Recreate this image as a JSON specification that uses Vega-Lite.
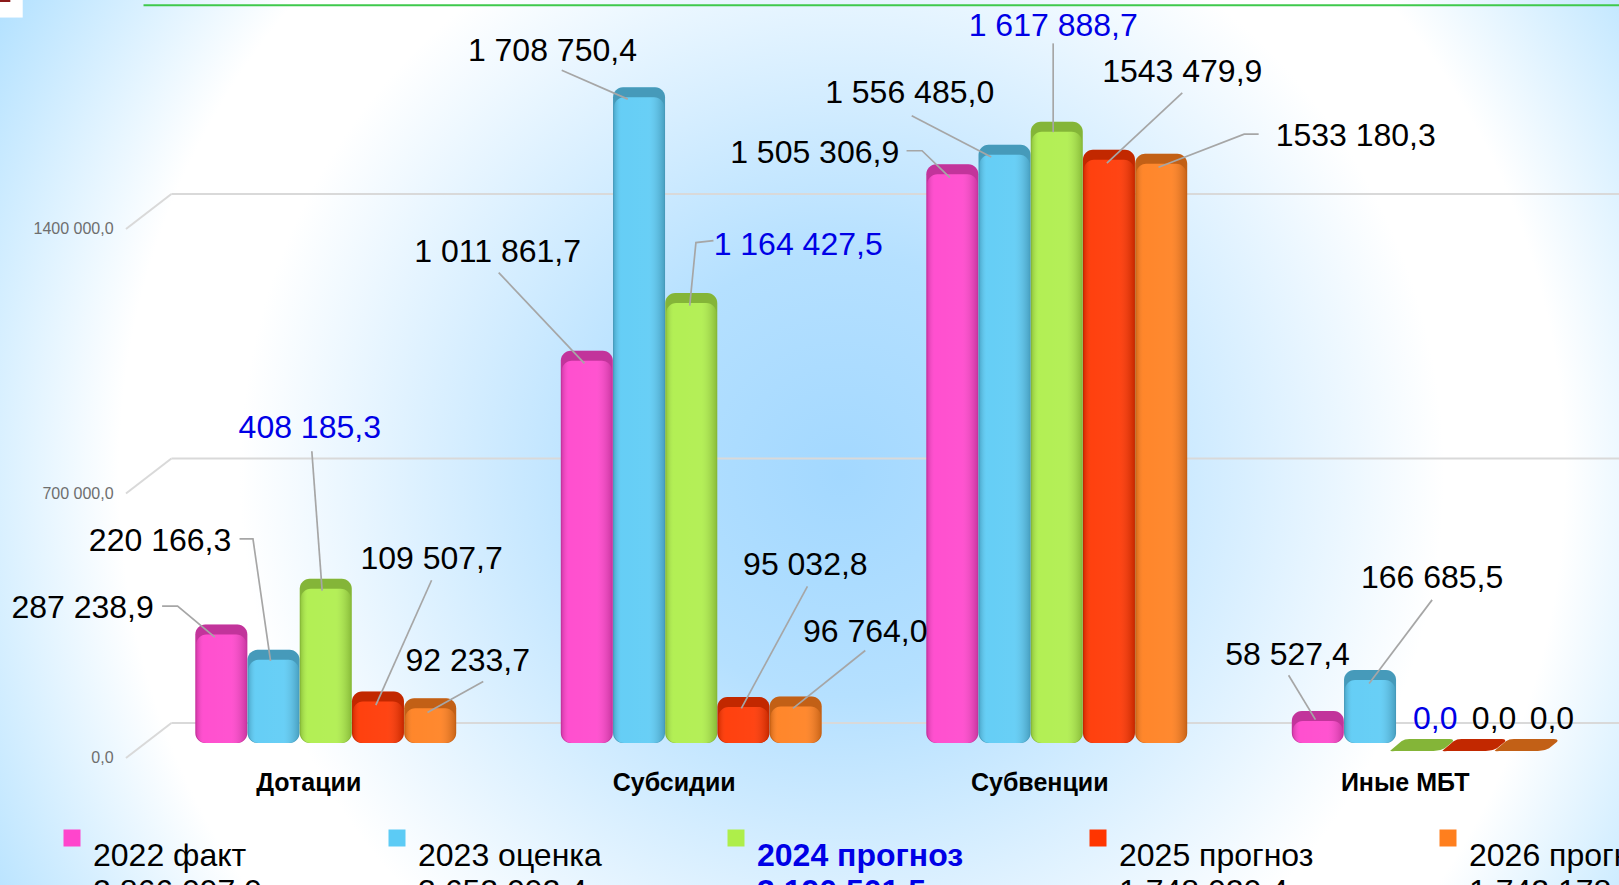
{"$schema":"https://vega.github.io/schema/vega-lite/v6.json","width":1619,"height":885,"padding":0,"autosize":{"type":"none"},
"view":{"stroke":null,"fill":{"gradient":"radial","x1":0.52,"y1":0.52,"r1":0,"x2":0.52,"y2":0.52,"r2":0.62,"stops":[{"offset":0,"color":"#a3d8ff"},{"offset":0.22,"color":"#b5e0ff"},{"offset":0.6,"color":"#ffffff"},{"offset":0.72,"color":"#ffffff"},{"offset":1,"color":"#a6dcff"}]}},
"config":{"font":"Liberation Sans"},
"datasets":{
"bars":[
{"cat":"Дотации","series":"2022 факт","value":287238.9},{"cat":"Дотации","series":"2023 оценка","value":220166.3},{"cat":"Дотации","series":"2024 прогноз","value":408185.3},{"cat":"Дотации","series":"2025 прогноз","value":109507.7},{"cat":"Дотации","series":"2026 прогноз","value":92233.7},
{"cat":"Субсидии","series":"2022 факт","value":1011861.7},{"cat":"Субсидии","series":"2023 оценка","value":1708750.4},{"cat":"Субсидии","series":"2024 прогноз","value":1164427.5},{"cat":"Субсидии","series":"2025 прогноз","value":95032.8},{"cat":"Субсидии","series":"2026 прогноз","value":96764.0},
{"cat":"Субвенции","series":"2022 факт","value":1505306.9},{"cat":"Субвенции","series":"2023 оценка","value":1556485.0},{"cat":"Субвенции","series":"2024 прогноз","value":1617888.7},{"cat":"Субвенции","series":"2025 прогноз","value":1543479.9},{"cat":"Субвенции","series":"2026 прогноз","value":1533180.3},
{"cat":"Иные МБТ","series":"2022 факт","value":58527.4},{"cat":"Иные МБТ","series":"2023 оценка","value":166685.5},{"cat":"Иные МБТ","series":"2024 прогноз","value":0},{"cat":"Иные МБТ","series":"2025 прогноз","value":0},{"cat":"Иные МБТ","series":"2026 прогноз","value":0}],
"wall":[{"value":0,"label":"0,0","front":-39700,"back":52930},{"value":700000,"label":"700 000,0","front":660300,"back":752930},{"value":1400000,"label":"1400 000,0","front":1360300,"back":1452930}],
"callouts":[
{"label":"287 238,9","at":80,"level":356908,"hi":false},{"label":"220 166,3","at":155,"level":534520,"hi":false},{"label":"408 185,3","at":300,"level":832362,"hi":true},{"label":"109 507,7","at":418,"level":488067,"hi":false},{"label":"92 233,7","at":453,"level":217550,"hi":false},
{"label":"1 011 861,7","at":482,"level":1299620,"hi":false},{"label":"1 708 750,4","at":535,"level":1832457,"hi":false},{"label":"1 164 427,5","at":773,"level":1318747,"hi":true},{"label":"95 032,8","at":780,"level":471672,"hi":false},{"label":"96 764,0","at":838,"level":294060,"hi":false},
{"label":"1 505 306,9","at":789,"level":1561940,"hi":false},{"label":"1 556 485,0","at":881,"level":1720425,"hi":false},{"label":"1 617 888,7","at":1020,"level":1898037,"hi":true},{"label":"1543 479,9","at":1145,"level":1775075,"hi":false},{"label":"1533 180,3","at":1313,"level":1605660,"hi":false},
{"label":"58 527,4","at":1247,"level":233945,"hi":false},{"label":"166 685,5","at":1387,"level":436150,"hi":false},{"label":"0,0","at":1390,"level":64530,"hi":true},{"label":"0,0","at":1447,"level":64530,"hi":false},{"label":"0,0","at":1503,"level":64530,"hi":false}],
"leaders":[
{"id":1,"n":1,"at":157,"level":362372},{"id":1,"n":2,"at":172,"level":362372},{"id":1,"n":3,"at":208,"level":280397},
{"id":2,"n":1,"at":232,"level":539985},{"id":2,"n":2,"at":245,"level":539985},{"id":2,"n":3,"at":262,"level":217550},
{"id":3,"n":1,"at":302,"level":772247},{"id":3,"n":2,"at":312,"level":403360},
{"id":4,"n":1,"at":418,"level":430685},{"id":4,"n":2,"at":364,"level":100052},
{"id":5,"n":1,"at":468,"level":162900},{"id":5,"n":2,"at":414,"level":80925},
{"id":6,"n":1,"at":483,"level":1244970},{"id":6,"n":2,"at":566,"level":1004510},
{"id":7,"n":1,"at":544,"level":1780540},{"id":7,"n":2,"at":608,"level":1704030},
{"id":8,"n":1,"at":691,"level":1329677},{"id":8,"n":2,"at":674,"level":1324212},{"id":8,"n":3,"at":668,"level":1157530},
{"id":9,"n":1,"at":782,"level":414290},{"id":9,"n":2,"at":718,"level":91855},
{"id":10,"n":1,"at":838,"level":244875},{"id":10,"n":2,"at":768,"level":91855},
{"id":11,"n":1,"at":878,"level":1567405},{"id":11,"n":2,"at":893,"level":1567405},{"id":11,"n":3,"at":920,"level":1496360},
{"id":12,"n":1,"at":883,"level":1660310},{"id":12,"n":2,"at":960,"level":1551010},
{"id":13,"n":1,"at":1020,"level":1851585},{"id":13,"n":2,"at":1020,"level":1616590},
{"id":14,"n":1,"at":1145,"level":1720425},{"id":14,"n":2,"at":1072,"level":1534615},
{"id":15,"n":1,"at":1219,"level":1611125},{"id":15,"n":2,"at":1205,"level":1611125},{"id":15,"n":3,"at":1122,"level":1523685},
{"id":16,"n":1,"at":1248,"level":179295},{"id":16,"n":2,"at":1274,"level":61797},
{"id":17,"n":1,"at":1387,"level":378767},{"id":17,"n":2,"at":1326,"level":157435}]
},
"resolve":{"scale":{"x":"independent"}},
"encoding":{},
"layer":[
{"encoding":{"x":{"type":"quantitative","scale":{"domain":[0,1568],"range":[0,1619]},"axis":null},"y":{"type":"quantitative","scale":{"domain":[-375803,1966350],"range":[885,0],"nice":false,"zero":false},"axis":null}},
"layer":[
{"data":{"name":"wall"},"mark":{"type":"rule","color":"#d9d9d9","strokeWidth":2},"encoding":{"x":{"datum":166},"x2":{"datum":1568},"y":{"field":"back","type":"quantitative"}}},
{"data":{"name":"wall"},"mark":{"type":"rule","color":"#d9d9d9","strokeWidth":2},"encoding":{"x":{"datum":122},"x2":{"datum":166},"y":{"field":"front","type":"quantitative"},"y2":{"field":"back"}}},
{"data":{"name":"wall"},"mark":{"type":"text","align":"right","baseline":"middle","fontSize":16,"color":"#6e6e6e"},"encoding":{"x":{"datum":110},"y":{"field":"front","type":"quantitative"},"text":{"field":"label"}}},
{"data":{"values":[{}]},"mark":{"type":"rule","color":"#3fc94c","strokeWidth":2},"encoding":{"x":{"datum":139},"x2":{"datum":1568},"y":{"datum":1952700}}},
{"data":{"values":[{}]},"mark":{"type":"rect","color":"#ffffff"},"encoding":{"x":{"datum":0},"x2":{"datum":22},"y":{"datum":1966350},"y2":{"datum":1919900}}},
{"data":{"values":[{}]},"mark":{"type":"rect","color":"#8b1a1a"},"encoding":{"x":{"datum":0},"x2":{"datum":10},"y":{"datum":1966350},"y2":{"datum":1961000}}}
]},
{"data":{"name":"bars"},
"encoding":{
"x":{"field":"cat","type":"nominal","sort":["Дотации","Субсидии","Субвенции","Иные МБТ"],"title":null,"scale":{"type":"band","domain":["Дотации","Субсидии","Субвенции","Иные МБТ"],"range":[143,1605],"paddingInner":0,"paddingOuter":0},"axis":{"orient":"bottom","offset":-115,"domain":false,"ticks":false,"grid":false,"labelPadding":0,"labelAngle":0,"labelOffset":-17,"labelFontSize":25,"labelFontWeight":"bold","labelColor":"#000000","labelBaseline":"top"}},
"xOffset":{"field":"series","type":"nominal","scale":{"domain":["2022 факт","2023 оценка","2024 прогноз","2025 прогноз","2026 прогноз"],"paddingInner":0,"paddingOuter":1.01}},
"y":{"field":"value","type":"quantitative","stack":null,"title":null,"scale":{"domain":[-375803,1966350],"range":[885,0],"nice":false,"zero":false},"axis":null},
"color":{"field":"series","type":"nominal","scale":{"domain":["2022 факт","2023 оценка","2024 прогноз","2025 прогноз","2026 прогноз"],"range":["#ff45cc","#5ccbf5","#aeee4a","#ff3500","#ff7f1e"]},"legend":{"orient":"none","legendX":56,"legendY":822,"direction":"horizontal","columns":5,"title":null,"symbolType":"square","symbolSize":289,"symbolOpacity":1,"labelFontSize":32,"labelColor":"#000000","labelOffset":5,"labelLimit":500,"columnPadding":118,"gridAlign":"each","labelExpr":"datum.label=='2022 факт'?['2022 факт','2 866 097,9']:datum.label=='2023 оценка'?['2023 оценка','3 652 092,4']:datum.label=='2024 прогноз'?['2024 прогноз','3 190 501,5']:datum.label=='2025 прогноз'?['2025 прогноз','1 748 020,4']:['2026 прогноз','1 742 178,0']","encode":{"labels":{"update":{"lineHeight":{"value":36},"dy":{"value":18},"fontWeight":{"signal":"datum.value=='2024 прогноз'?'bold':'normal'"},"fill":{"signal":"datum.value=='2024 прогноз'?'#0000e6':'#000000'"}}}}}}
},
"layer":[
{"transform":[{"filter":"datum.value>0"}],"mark":{"type":"bar","size":52,"cornerRadius":10,"xOffset":9,"yOffset":-10}},
{"transform":[{"filter":"datum.value>0"}],"mark":{"type":"bar","size":52,"cornerRadius":10,"xOffset":9,"yOffset":-10,"color":"#000000","opacity":0.24},"encoding":{"color":{"value":"#000000"}}},
{"transform":[{"filter":"datum.value>0"}],"mark":{"type":"bar","size":50,"cornerRadius":10}},
{"transform":[{"filter":"datum.value>0"}],"mark":{"type":"bar","size":50,"cornerRadius":10,"fill":{"gradient":"linear","x1":0,"y1":0,"x2":1,"y2":0,"stops":[{"offset":0,"color":"rgba(0,0,0,0.16)"},{"offset":0.14,"color":"rgba(255,255,255,0.06)"},{"offset":0.7,"color":"rgba(255,255,255,0.08)"},{"offset":1,"color":"rgba(0,0,0,0.2)"}]}},"encoding":{"color":{"value":null}}},
{"transform":[{"filter":"datum.value==0"}],"mark":{"type":"point","filled":true,"opacity":1,"size":4096,"yOffset":2,"shape":"M-1,0.18 L-0.65,-0.12 Q-0.55,-0.19 -0.4,-0.19 L0.85,-0.19 Q1,-0.19 0.95,-0.1 L0.7,0.1 Q0.55,0.19 0.35,0.19 L-0.85,0.19 Q-1,0.2 -1,0.18 Z"}},
{"transform":[{"filter":"datum.value==0"}],"mark":{"type":"point","filled":true,"opacity":0.24,"size":4096,"yOffset":2,"shape":"M-1,0.18 L-0.65,-0.12 Q-0.55,-0.19 -0.4,-0.19 L0.85,-0.19 Q1,-0.19 0.95,-0.1 L0.7,0.1 Q0.55,0.19 0.35,0.19 L-0.85,0.19 Q-1,0.2 -1,0.18 Z"},"encoding":{"color":{"value":"#000000"}}}
]},
{"encoding":{"x":{"field":"at","type":"quantitative","scale":{"domain":[0,1568],"range":[0,1619]},"axis":null},"y":{"field":"level","type":"quantitative","scale":{"domain":[-375803,1966350],"range":[885,0],"nice":false,"zero":false},"axis":null}},
"layer":[
{"data":{"name":"leaders"},"mark":{"type":"line","color":"#a6a6a6","strokeWidth":1.7},"encoding":{"detail":{"field":"id"},"order":{"field":"n"}}},
{"data":{"name":"callouts"},"mark":{"type":"text","fontSize":32,"align":"center","baseline":"middle"},"encoding":{"text":{"field":"label"},"color":{"condition":{"test":"datum.hi","value":"#0000e6"},"value":"#000000"},"fontWeight":{"condition":{"test":"datum.hi","value":"bold"},"value":"normal"}}}
]}
]}
